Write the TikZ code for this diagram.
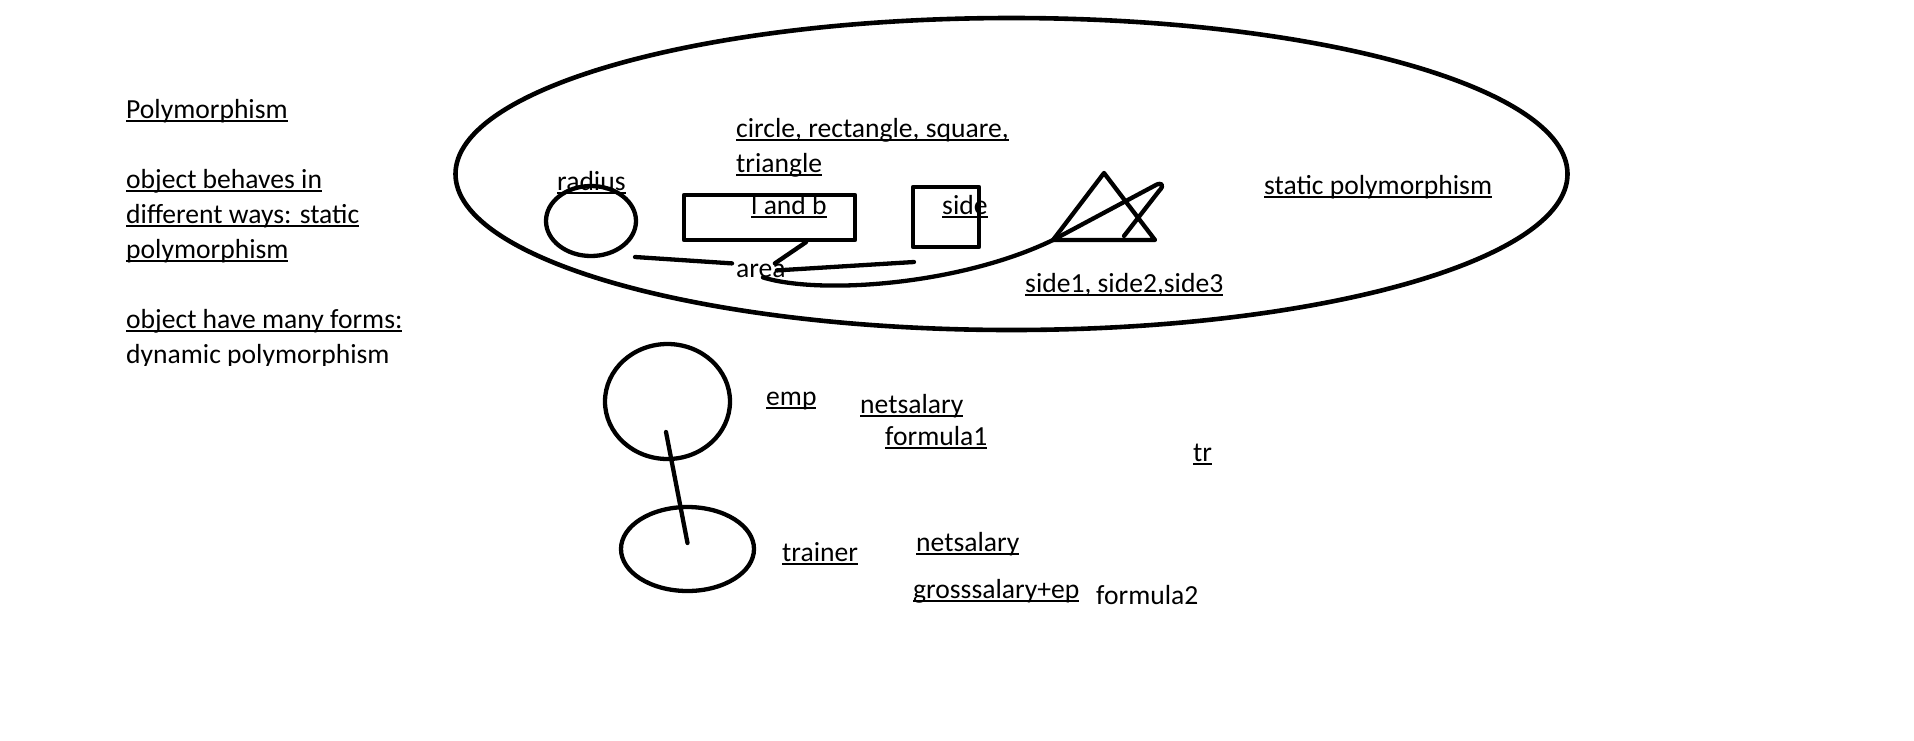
\documentclass[tikz,border=0pt]{standalone}
\usepackage{fontspec}
\setmainfont{Carlito}
\usepackage{tikz}
\usetikzlibrary{positioning, shapes}

\newcommand{\uln}[1]{\setbox0\hbox{#1}\rlap{\rule[-0.14em]{\wd0}{0.085em}}\box0}

\begin{document}
\begin{tikzpicture}[x=1pt, y=-1pt,
  font=\fontsize{27.6}{35}\selectfont,
  pen/.style={line width=4.3pt, line cap=round, line join=round},
  fig/.style={draw, pen, inner sep=0pt},
  lbl/.style={anchor=base west, inner sep=0pt, align=left}]
\useasboundingbox (0,0) rectangle (1914,740);

% notes on the left, cut at the bottom
\begin{scope}
\clip (100,0) rectangle (600,365);
\node (Notes) [lbl] at (126,363) {\uln{Polymorphism}\\[35pt]
\uln{object behaves in}\\ \uln{different ways: static}\\ \uln{polymorphism}\\[35pt]
\uln{object have many forms:}\\ dynamic polymorphism};
\end{scope}

% static polymorphism
\node (Static) [fig, ellipse, line width=4.6pt, minimum width=1112pt, minimum height=312pt] at (1011.5,174) {};
\node (Kinds) [lbl] at (736,172) {\uln{circle, rectangle, square,}\\ \uln{triangle}};
\node (Circ) [fig, ellipse, minimum width=90pt, minimum height=70pt] at (591,221) {};
\node (Radius) [lbl] at (557,190) {\uln{radius}};
\node (Rect) [fig, rectangle, minimum width=171pt, minimum height=45pt] at (769.5,217.5) {};
\node (LB) [lbl] at (751,214) {\uln{l and b}};
\node (Square) [fig, rectangle, minimum width=66pt, minimum height=60pt] at (946,217) {};
\node (Side) [lbl] at (942,214) {\uln{side}};
\node (Area) [lbl] at (736,277) {area};
\node (Sides) [lbl] at (1025,292) {\uln{side1, side2,side3}};
\node (SP) [lbl] at (1264,194) {\uln{static polymorphism}};

\coordinate (T1) at (1053,240);
\coordinate (T2) at (1104,173);
\coordinate (T3) at (1155,240);
\coordinate (Tail) at (1124,236);
\coordinate (c1) at (635,257);
\coordinate (s1) at (914,262);

\draw [pen] (T1) -- (T2) -- (T3) -- cycle;
\draw [pen] (c1) -- ([xshift=-4pt]Area.north west);
\draw [pen] (Rect.-34) -- ([xshift=-11pt]Area.north east);
\draw [pen] ([xshift=-9pt]Area.east) -- (s1);
\draw [pen] ([xshift=2pt]Area.south) .. controls (820,295) and (960,285) .. (T1)
  -- (1154,186) .. controls (1162,181) and (1165,185) .. (1159,191) -- (Tail);

% dynamic polymorphism
\node (Emp) [fig, ellipse, minimum width=125pt, minimum height=115pt] at (667.5,401.5) {};
\node (Trainer) [fig, ellipse, minimum width=133pt, minimum height=84pt] at (687.5,549) {};
\draw [pen] ([xshift=-1.5pt, yshift=-30.5pt]Emp.center) -- ([yshift=6pt]Trainer.center);

\node (EmpL) [lbl] at (766,405) {\uln{emp}};
\node (Net1) [lbl] at (860,413) {\uln{netsalary}};
\node (F1) [lbl] at (885,445) {\uln{formula1}};
\node (Tr) [lbl] at (1193,461) {\uln{tr}};
\node (TrainerL) [lbl] at (782,561) {\uln{trainer}};
\node (Net2) [lbl] at (916,551) {\uln{netsalary}};
\node (Gross) [lbl] at (913,598) {\uln{grosssalary+ep}};
\node (F2) [lbl] at (1096,604) {formula2};
\end{tikzpicture}
\end{document}
